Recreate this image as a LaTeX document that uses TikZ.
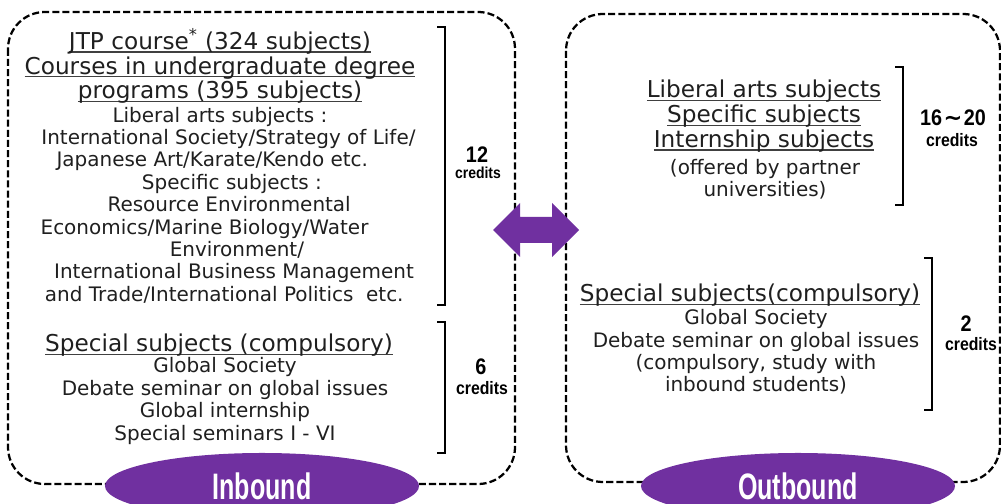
\documentclass[tikz,border=0pt]{standalone}
\usepackage{fontspec}
\setmainfont{DejaVu Sans}
\newfontfamily\credfont[FakeStretch=0.88]{Liberation Sans}
\newfontfamily\tagfont[FakeStretch=0.68]{Liberation Sans}
\newfontfamily\symfont{DejaVu Sans}
\usetikzlibrary{shapes.geometric}
\definecolor{inpurple}{HTML}{7030A0}
\newcommand{\uln}[1]{\leavevmode\setbox0\hbox{#1}\rlap{\color{black!75}\rule[-2.4pt]{\wd0}{0.85pt}}\box0}
\begin{document}
\begin{tikzpicture}[x=0.025cm, y=-0.025cm,
  dashbox/.style={dash pattern=on 5pt off 2.2pt, line width=1.6pt, rounded corners=0.92cm},
  bracket/.style={line width=2.1pt},
  head/.style={align=center, inner sep=0pt, text=black!88, font=\fontsize{16.5}{17.7}\selectfont},
  body/.style={align=center, inner sep=0pt, text=black!88, font=\fontsize{14.2}{15.9}\selectfont},
  num/.style={inner sep=0pt, font=\credfont\bfseries\fontsize{16}{16}\selectfont},
  cred/.style={inner sep=0pt, font=\credfont\bfseries\fontsize{12.8}{13}\selectfont},
  tag/.style={ellipse, fill=inpurple, text=white, minimum width=7.85cm, minimum height=1.65cm, inner sep=0pt, font=\tagfont\bfseries\fontsize{26.2}{27}\selectfont}]
  \useasboundingbox (0,0) rectangle (1001,504);
  % boxes
  \draw[dashbox] (8,12) rectangle (515,484);
  \draw[dashbox] (566,14) rectangle (1000,482);
  % inbound side
  \node[head] (jtp) at (220,66) {\uln{JTP course\textsuperscript{*} (324 subjects)}\\
    \uln{Courses in undergraduate degree}\\
    \uln{programs (395 subjects)}};
  \node[body] (inlist) at (220,205) {Liberal arts subjects :\\
    \hspace*{12pt}International Society/Strategy of Life/\\
    Japanese Art/Karate/Kendo etc.\kern11pt\\
    \hspace*{17pt}Specific subjects :\\
    \hspace*{13pt}Resource Environmental\\
    Economics/Marine Biology/Water\kern22pt\\
    \hspace*{24pt}Environment/\\
    \hspace*{20pt}International Business Management\\
    \hspace*{6pt}and Trade/International Politics\ \ etc.};
  \node[head] (inspec) at (219,345) {\uln{Special subjects (compulsory)}};
  \node[body] (inspecbody) at (225,401) {Global Society\\
    Debate seminar on global issues\\
    Global internship\\
    Special seminars I - VI};
  \draw[bracket] (437,27) -- (445,27) -- (445,305) -- (437,305);
  \draw[bracket] (437,322) -- (445,322) -- (445,453) -- (437,453);
  \node[num] (n12) at (477,155) {12};
  \node[cred, font=\credfont\bfseries\fontsize{11.3}{12}\selectfont] (c12) at (478,173) {credits};
  \node[num] (n6) at (481,367) {6};
  \node[cred] (c6) at (482,388) {credits};
  \node[tag] (inb) at (262,486) {Inbound};
  % outbound side
  \node[head] (outhead) at (764,116) {\uln{Liberal arts subjects}\\
    \uln{Specific subjects}\\
    \uln{Internship subjects}};
  \node[body] (outnote) at (765,179) {(offered by partner\\
    universities)};
  \node[head] (outspec) at (750,295) {\uln{Special subjects(compulsory)}};
  \node[body] (outspecbody) at (756,352) {Global Society\\
    Debate seminar on global issues\\
    (compulsory, study with\\
    inbound students)};
  \draw[bracket] (895,67) -- (903,67) -- (903,205) -- (895,205);
  \draw[bracket] (924,258) -- (932,258) -- (932,410) -- (924,410);
  \node[num] (n1620) at (953,118) {16\kern1pt{\symfont ∼}\kern1pt20};
  \node[cred] (c1620) at (952,140) {credits};
  \node[num] (n2) at (966,324) {2};
  \node[cred] (c2) at (971,344) {credits};
  \node[tag] (outb) at (798,486) {Outbound};
  % exchange arrow
  \fill[inpurple] (493,230) -- (520,203) -- (520,217) -- (552,217) -- (552,203) -- (579,230)
    -- (552,257) -- (552,243) -- (520,243) -- (520,257) -- cycle;
\end{tikzpicture}
\end{document}
